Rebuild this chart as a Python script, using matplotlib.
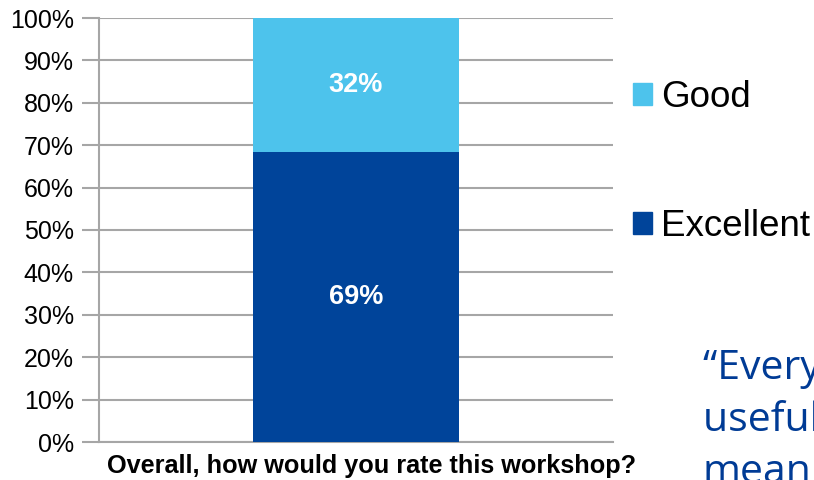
import matplotlib
matplotlib.use("Agg")
import matplotlib.pyplot as plt
from matplotlib.patches import Patch

# data
question = "Overall, how would you rate this workshop?"
series = ["Excellent", "Good"]
values = [68.5, 31.5]
value_labels = ["69%", "32%"]
colors = ["#00449A", "#4DC3EC"]
yticks = list(range(0, 101, 10))
quote_lines = ["\u201cEverything was", "useful and", "meaningful\u201d"]

plt.rcParams["font.family"] = ["Liberation Sans", "DejaVu Sans"]

fig = plt.figure(figsize=(8.14, 4.8), dpi=100)
ax = fig.add_axes([99 / 814, 1 - 442 / 480, 514 / 814, 424 / 480])

bottom = 0
for name, val, lab, col in zip(series, values, value_labels, colors):
    ax.bar([0], [val], bottom=bottom, width=0.4, color=col, zorder=3, label=name)
    ax.text(0, bottom + val / 2, lab, ha="center", va="center", color="white",
            fontsize=19.5, fontweight="bold", zorder=4)
    bottom += val

ax.set_xlim(-0.5, 0.5)
ax.set_ylim(0, 100)
ax.set_yticks(yticks)
ax.set_yticklabels([f"{t}%" for t in yticks], fontsize=18)
ax.set_xticks([])
ax.grid(axis="y", color="#A6A6A6", linewidth=1.5, zorder=0)
for s in ["top", "right"]:
    ax.spines[s].set_visible(False)
for s in ["left", "bottom"]:
    ax.spines[s].set_color("#A6A6A6")
    ax.spines[s].set_linewidth(1.5)
ax.tick_params(axis="y", color="#A6A6A6", width=1.5, length=12, pad=6)

fig.text(372 / 814, 1 - 466 / 480, question, ha="center", va="center",
         fontsize=18.2, fontweight="bold")

handles = [Patch(color=c, label=n) for n, c in zip(series, colors)][::-1]
fig.legend(handles=handles, loc="center left", bbox_to_anchor=(633 / 814, 1 - 162 / 480),
           frameon=False, fontsize=26.5, handlelength=0.52, handleheight=0.52,
           handletextpad=0.25, labelspacing=2.56, borderpad=0, borderaxespad=0)

for i, line in enumerate(quote_lines):
    fig.text(703 / 814, 1 - (379 + 52 * i) / 480, line, ha="left", va="baseline",
             fontsize=29.5, color="#003B95", family=["Open Sans", "DejaVu Sans"])

fig.savefig("out.png", dpi=100)
